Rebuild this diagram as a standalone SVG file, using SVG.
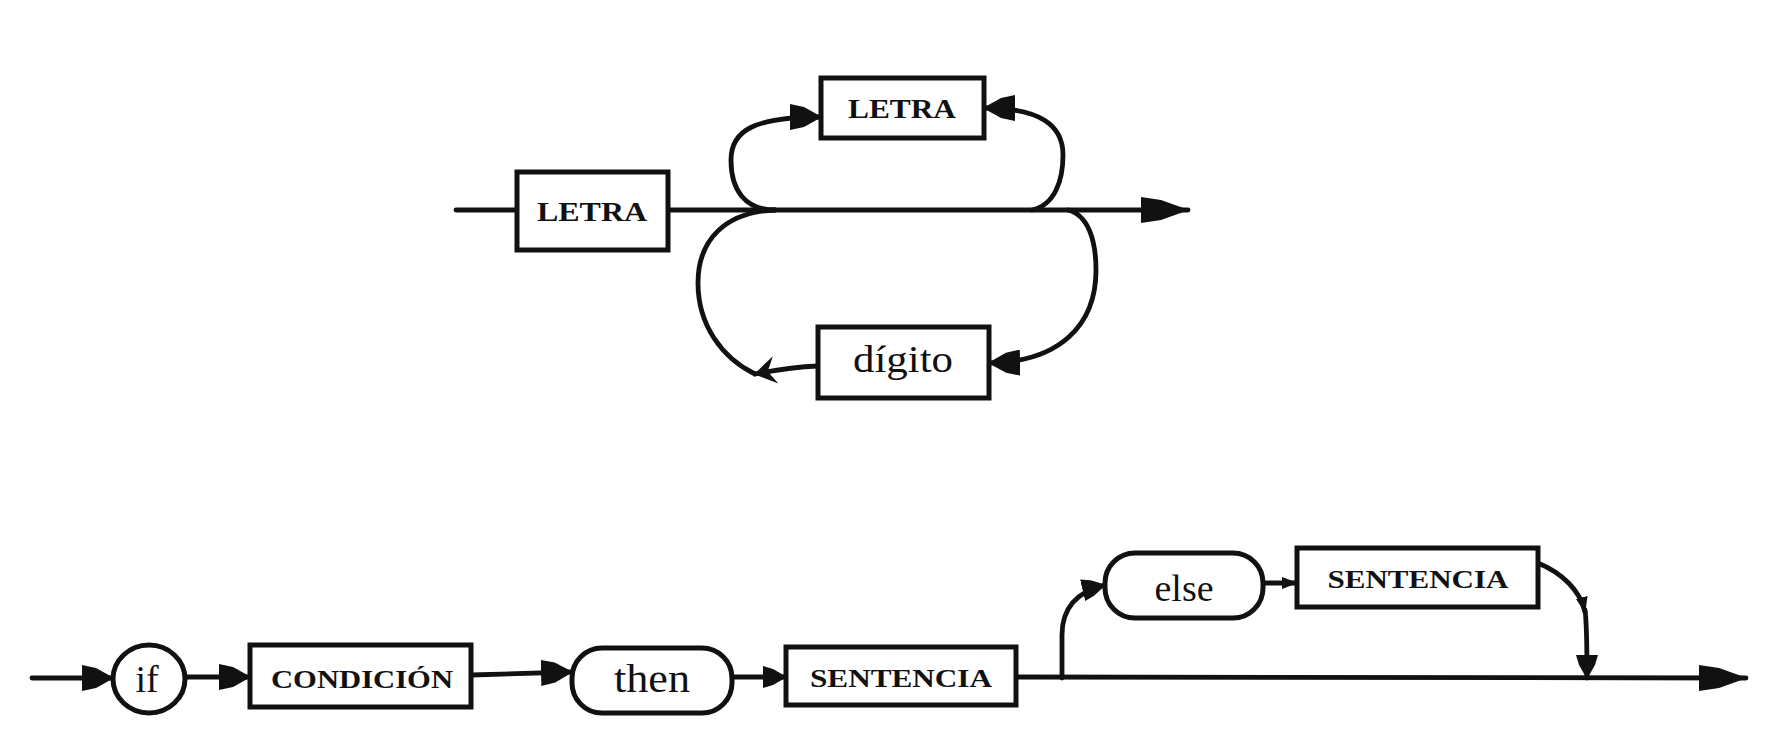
<svg xmlns="http://www.w3.org/2000/svg" width="1773" height="749" viewBox="0 0 1773 749">
<style>
.box{fill:#fff;stroke:#111;stroke-width:5}
.ln{fill:none;stroke:#111;stroke-width:4.8;stroke-linecap:round}
.sc{font-family:"Liberation Serif",serif;font-weight:bold;fill:#111;text-anchor:middle}
.rm{font-family:"Liberation Serif",serif;fill:#111;text-anchor:middle}
</style>
<defs>
<marker id="big" viewBox="0 0 48 28" refX="47" refY="14" markerWidth="48" markerHeight="28" markerUnits="userSpaceOnUse" orient="auto"><path d="M0,1 L20,4 L48,14 L20,24 L0,27 Z" fill="#111"/></marker>
<marker id="arr" viewBox="0 0 32 26" refX="31" refY="13" markerWidth="32" markerHeight="26" markerUnits="userSpaceOnUse" orient="auto"><path d="M0,0 L14,3 L32,13 L14,23 L0,26 Z" fill="#111"/></marker>
<marker id="med" viewBox="0 0 24 22" refX="23" refY="11" markerWidth="24" markerHeight="22" markerUnits="userSpaceOnUse" orient="auto"><path d="M0,0 L10,3 L24,11 L10,19 L0,22 Z" fill="#111"/></marker>
<marker id="sm" viewBox="0 0 16 12" refX="15" refY="6" markerWidth="16" markerHeight="12" markerUnits="userSpaceOnUse" orient="auto"><path d="M0,0 L16,6 L0,12 Z" fill="#111"/></marker>
<marker id="barb" viewBox="0 0 24 28" refX="23" refY="14" markerWidth="24" markerHeight="28" markerUnits="userSpaceOnUse" orient="auto"><path d="M24,14 L2,0 L10,14 L2,28 Z" fill="#111"/></marker>
</defs>
<rect width="1773" height="749" fill="#fff"/>
<g id="connectors">
<line class="ln" x1="456" y1="210" x2="517" y2="210"/>
<line class="ln" x1="668" y1="210" x2="1188" y2="210" marker-end="url(#big)"/>
<path class="ln" d="M775 210 C745 210 731 190 731 160 C731 130 755 117 821 117" marker-end="url(#arr)"/>
<path class="ln" d="M1032 210 C1055 205 1063 180 1063 155 C1063 125 1040 108 984 108" marker-end="url(#arr)"/>
<path class="ln" d="M755 374 C722 358 698 325 698 283 C698 240 725 212 775 210"/>
<path class="ln" d="M818 366 C795 367 775 370 755 374" marker-end="url(#barb)"/>
<path class="ln" d="M1068 210 C1088 215 1096 240 1096 270 C1096 325 1060 362 989 363" marker-end="url(#arr)"/>
<line class="ln" x1="32" y1="678" x2="113" y2="678" marker-end="url(#arr)"/>
<line class="ln" x1="186" y1="677" x2="250" y2="677" marker-end="url(#arr)"/>
<line class="ln" x1="471" y1="675" x2="572" y2="672" marker-end="url(#arr)"/>
<line class="ln" x1="732" y1="677" x2="786" y2="677" marker-end="url(#med)"/>
<line class="ln" x1="1016" y1="677" x2="1746" y2="678" marker-end="url(#big)"/>
<path class="ln" d="M1062 678 L1062 635 C1062 610 1075 592 1105 585" marker-end="url(#med)"/>
<line class="ln" x1="1263" y1="583" x2="1297" y2="583" marker-end="url(#sm)"/>
<path class="ln" d="M1538 563 C1562 573 1580 590 1585 612" marker-end="url(#sm)"/>
<path class="ln" d="M1585 610 C1587 625 1587 640 1587 678" marker-end="url(#med)"/>
</g>
<g id="letra1"><rect class="box" x="517" y="172" width="151" height="78"/><text class="sc" x="592" y="221" font-size="28" textLength="110" lengthAdjust="spacingAndGlyphs">LETRA</text></g>
<g id="letra2"><rect class="box" x="821" y="78" width="163" height="60"/><text class="sc" x="902" y="118" font-size="28" textLength="108" lengthAdjust="spacingAndGlyphs">LETRA</text></g>
<g id="digito"><rect class="box" x="818" y="327" width="171" height="71"/><text class="rm" x="903" y="372" font-size="38" textLength="100" lengthAdjust="spacingAndGlyphs">dígito</text></g>
<g id="if"><ellipse class="box" cx="149" cy="679" rx="36" ry="34"/><text class="rm" x="147" y="692" font-size="38">if</text></g>
<g id="condicion"><rect class="box" x="250" y="645" width="221" height="62"/><text class="sc" x="362" y="688" font-size="26" textLength="182" lengthAdjust="spacingAndGlyphs">CONDICIÓN</text></g>
<g id="then"><rect class="box" x="572" y="648" width="160" height="65" rx="30"/><text class="rm" x="652" y="692" font-size="40" textLength="76" lengthAdjust="spacingAndGlyphs">then</text></g>
<g id="sentencia1"><rect class="box" x="786" y="647" width="230" height="58"/><text class="sc" x="901" y="687" font-size="25" textLength="182" lengthAdjust="spacingAndGlyphs">SENTENCIA</text></g>
<g id="else"><rect class="box" x="1105" y="553" width="158" height="65" rx="30"/><text class="rm" x="1184" y="601" font-size="38">else</text></g>
<g id="sentencia2"><rect class="box" x="1297" y="548" width="241" height="59"/><text class="sc" x="1418" y="588" font-size="25" textLength="181" lengthAdjust="spacingAndGlyphs">SENTENCIA</text></g>
</svg>
